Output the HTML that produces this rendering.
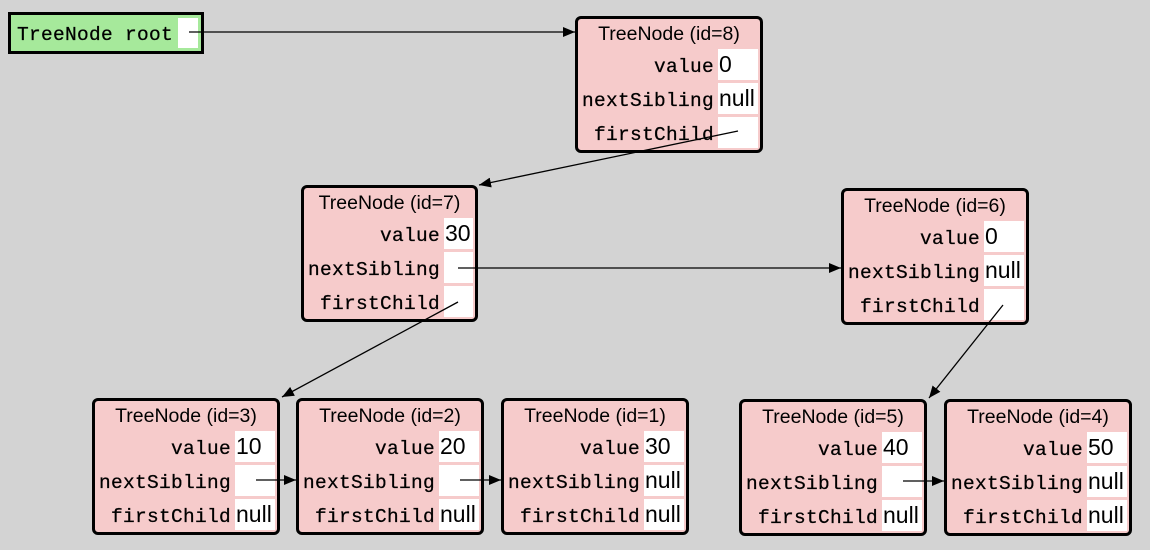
<!DOCTYPE html>
<html><head><meta charset="utf-8"><style>
body{margin:0;background:#d3d3d3;width:1150px;height:550px;overflow:hidden;position:relative;font-family:"Liberation Sans",Arial,sans-serif}
.n{position:absolute;background:#f6cbcb;border:3px solid #000;border-radius:6px;box-sizing:border-box;height:137px}
.t{position:absolute;left:0;right:0;top:4px;text-align:center;font-size:19.5px;line-height:22px}
.l{position:absolute;font-family:"Liberation Mono",monospace;font-size:19.5px;letter-spacing:0.3px;line-height:34px;text-align:right;white-space:nowrap;-webkit-text-stroke:0.25px #000}
.c{position:absolute;background:#fff;height:31px;font-size:23px;line-height:31px;padding-left:1px;box-sizing:border-box;overflow:hidden}
svg{position:absolute;left:0;top:0}
</style></head><body>
<div style="position:absolute;left:8px;top:12px;width:196px;height:42px;background:#a6e99b;border:3px solid #000;box-sizing:border-box">
<div class="l" style="left:6px;top:3px;text-align:left">TreeNode root</div>
<div class="c" style="left:167px;top:3px;width:20px;height:30px"></div>
</div>

<div class="n" style="left:575px;top:16px;width:188px">
<div class="t">TreeNode (id=8)</div>
<div class="l" style="right:46px;top:31px">value</div><div class="c" style="left:140px;top:30px;width:40px">0</div>
<div class="l" style="right:46px;top:65px">nextSibling</div><div class="c" style="left:140px;top:64px;width:40px">null</div>
<div class="l" style="right:46px;top:99px">firstChild</div><div class="c" style="left:140px;top:98px;width:40px"></div>
</div>
<div class="n" style="left:301px;top:185px;width:177px">
<div class="t">TreeNode (id=7)</div>
<div class="l" style="right:35px;top:31px">value</div><div class="c" style="left:140px;top:30px;width:29px">30</div>
<div class="l" style="right:35px;top:65px">nextSibling</div><div class="c" style="left:140px;top:64px;width:29px"></div>
<div class="l" style="right:35px;top:99px">firstChild</div><div class="c" style="left:140px;top:98px;width:29px"></div>
</div>
<div class="n" style="left:841px;top:188px;width:188px">
<div class="t">TreeNode (id=6)</div>
<div class="l" style="right:46px;top:31px">value</div><div class="c" style="left:140px;top:30px;width:40px">0</div>
<div class="l" style="right:46px;top:65px">nextSibling</div><div class="c" style="left:140px;top:64px;width:40px">null</div>
<div class="l" style="right:46px;top:99px">firstChild</div><div class="c" style="left:140px;top:98px;width:40px"></div>
</div>
<div class="n" style="left:92px;top:398px;width:188px">
<div class="t">TreeNode (id=3)</div>
<div class="l" style="right:46px;top:31px">value</div><div class="c" style="left:140px;top:30px;width:40px">10</div>
<div class="l" style="right:46px;top:65px">nextSibling</div><div class="c" style="left:140px;top:64px;width:40px"></div>
<div class="l" style="right:46px;top:99px">firstChild</div><div class="c" style="left:140px;top:98px;width:40px">null</div>
</div>
<div class="n" style="left:296px;top:398px;width:188px">
<div class="t">TreeNode (id=2)</div>
<div class="l" style="right:46px;top:31px">value</div><div class="c" style="left:140px;top:30px;width:40px">20</div>
<div class="l" style="right:46px;top:65px">nextSibling</div><div class="c" style="left:140px;top:64px;width:40px"></div>
<div class="l" style="right:46px;top:99px">firstChild</div><div class="c" style="left:140px;top:98px;width:40px">null</div>
</div>
<div class="n" style="left:501px;top:398px;width:188px">
<div class="t">TreeNode (id=1)</div>
<div class="l" style="right:46px;top:31px">value</div><div class="c" style="left:140px;top:30px;width:40px">30</div>
<div class="l" style="right:46px;top:65px">nextSibling</div><div class="c" style="left:140px;top:64px;width:40px">null</div>
<div class="l" style="right:46px;top:99px">firstChild</div><div class="c" style="left:140px;top:98px;width:40px">null</div>
</div>
<div class="n" style="left:739px;top:399px;width:188px">
<div class="t">TreeNode (id=5)</div>
<div class="l" style="right:46px;top:31px">value</div><div class="c" style="left:140px;top:30px;width:40px">40</div>
<div class="l" style="right:46px;top:65px">nextSibling</div><div class="c" style="left:140px;top:64px;width:40px"></div>
<div class="l" style="right:46px;top:99px">firstChild</div><div class="c" style="left:140px;top:98px;width:40px">null</div>
</div>
<div class="n" style="left:944px;top:399px;width:188px">
<div class="t">TreeNode (id=4)</div>
<div class="l" style="right:46px;top:31px">value</div><div class="c" style="left:140px;top:30px;width:40px">50</div>
<div class="l" style="right:46px;top:65px">nextSibling</div><div class="c" style="left:140px;top:64px;width:40px">null</div>
<div class="l" style="right:46px;top:99px">firstChild</div><div class="c" style="left:140px;top:98px;width:40px">null</div>
</div>

<svg width="1150" height="550" viewBox="0 0 1150 550">
<defs><marker id="a" markerWidth="12" markerHeight="10" refX="12" refY="5" orient="auto" markerUnits="userSpaceOnUse"><path d="M0,0 L12,5 L0,10 z" fill="#000"/></marker></defs>
<g stroke="#000" stroke-width="1.3" fill="none" marker-end="url(#a)">
<line x1="189" y1="32" x2="575" y2="32"/>
<line x1="738" y1="131" x2="479" y2="185"/>
<line x1="458" y1="268" x2="841" y2="268"/>
<line x1="458" y1="302" x2="282" y2="397"/>
<line x1="1003" y1="305" x2="929" y2="398"/>
<line x1="256" y1="480" x2="296" y2="480"/>
<line x1="460" y1="480" x2="501" y2="480"/>
<line x1="903" y1="481" x2="944" y2="481"/>
</g>
</svg>
</body></html>
